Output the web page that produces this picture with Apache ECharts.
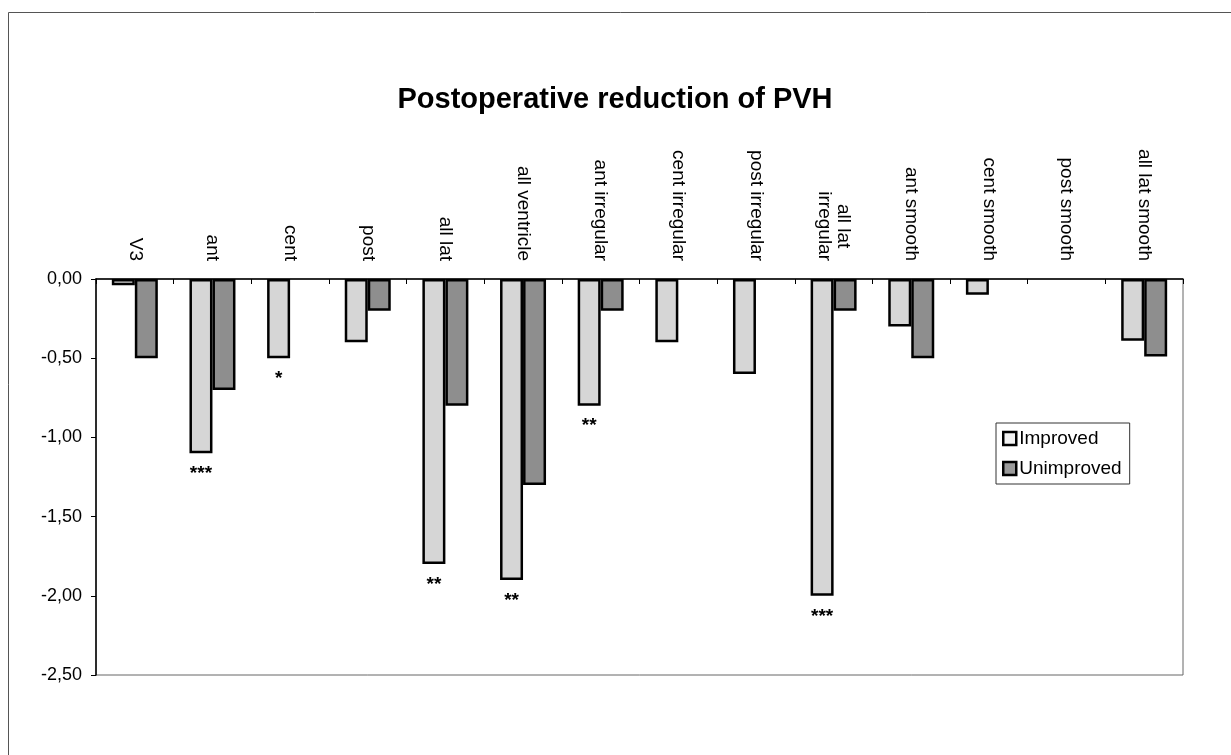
<!DOCTYPE html>
<html>
<head>
<meta charset="utf-8">
<script src="https://cdn.jsdelivr.net/npm/echarts@6/dist/echarts.min.js"></script>
<style>
html,body{margin:0;padding:0;background:#fff;}
#chart{width:1231px;height:755px;}
</style>
</head>
<body>
<div id="chart"></div>
<script>
const categories = ['V3','ant','cent','post','all lat','all ventricle','ant irregular','cent irregular','post irregular','all lat\nirregular','ant smooth','cent smooth','post smooth','all lat smooth'];
const improved   = [-0.04, -1.10, -0.50, -0.40, -1.80, -1.90, -0.80, -0.40, -0.60, -2.00, -0.30, -0.10, null, -0.39];
const unimproved = [-0.50, -0.70, null, -0.20, -0.80, -1.30, -0.20, null, null, -0.20, -0.50, null, null, -0.49];
const significance = ['', '***', '*', '', '**', '**', '**', '', '', '***', '', '', '', ''];
const yTicks = [-2.5, -2.0, -1.5, -1.0, -0.5, 0];

const FONT = '"Liberation Sans", Arial, sans-serif';
const chart = echarts.init(document.getElementById('chart'), null, {renderer: 'canvas'});

const improvedData = improved.map((v, i) => ({
  value: v,
  label: {
    show: !!significance[i],
    formatter: significance[i],
    position: 'bottom',
    distance: 11,
    fontSize: 19,
    fontWeight: 'bold',
    color: '#000',
    fontFamily: FONT
  }
}));

chart.setOption({
  animation: false,
  backgroundColor: '#fff',
  title: {
    text: 'Postoperative reduction of PVH',
    left: 610,
    top: 80,
    textAlign: 'center',
    textStyle: {fontFamily: FONT, fontSize: 29, fontWeight: 'bold', color: '#000'}
  },
  graphic: [{
    type: 'rect',
    shape: {x: 8.5, y: 12.5, width: 1240, height: 800},
    style: {fill: 'none', stroke: '#555', lineWidth: 1},
    silent: true, z: -1
  }],
  legend: {
    orient: 'vertical',
    left: 996, top: 423,
    width: 137, height: 63,
    padding: [6, 8, 6, 6],
    itemGap: 11,
    itemWidth: 13, itemHeight: 13,
    borderColor: '#333', borderWidth: 1,
    backgroundColor: '#fff',
    textStyle: {fontFamily: FONT, fontSize: 19, color: '#000', padding: [0, 0, 0, -2]},
    data: [
      {name: 'Improved', icon: 'rect', itemStyle: {color: '#f2f2f2', borderColor: '#000', borderWidth: 2.5}},
      {name: 'Unimproved', icon: 'rect', itemStyle: {color: '#9a9a9a', borderColor: '#000', borderWidth: 2.5}}
    ]
  },
  grid: {
    left: 96, right: 48, top: 279, bottom: 80,
    show: true, borderColor: '#666', borderWidth: 1, backgroundColor: 'transparent'
  },
  xAxis: {
    type: 'category',
    position: 'top',
    data: categories,
    axisLine: {onZero: false, lineStyle: {color: '#000', width: 1.5}},
    axisTick: {show: true, inside: true, length: 5, alignWithLabel: false, interval: 0, lineStyle: {color: '#000'}},
    axisLabel: {
      interval: 0, rotate: 90, margin: 18,
      fontFamily: FONT, fontSize: 19, color: '#000',
      formatter: v => v.split('\n').map(s => '{c|' + s + '}').join('\n'),
      rich: {c: {align: 'center', fontFamily: FONT, fontSize: 19, color: '#000'}}
    },
    splitLine: {show: false}
  },
  yAxis: {
    type: 'value',
    min: yTicks[0], max: yTicks[yTicks.length - 1], interval: 0.5,
    axisLine: {show: true, lineStyle: {color: '#000', width: 1.5}},
    axisTick: {show: true, length: 5, lineStyle: {color: '#000'}},
    axisLabel: {
      margin: 14, fontFamily: FONT, fontSize: 18, color: '#000',
      formatter: v => v.toFixed(2).replace('.', ',')
    },
    splitLine: {show: false}
  },
  series: [
    {
      name: 'Improved', type: 'bar', data: improvedData,
      barWidth: 23, barGap: '0%',
      itemStyle: {color: '#d6d6d6', borderColor: '#000', borderWidth: 2.5}
    },
    {
      name: 'Unimproved', type: 'bar', data: unimproved,
      barWidth: 23, barGap: '0%',
      itemStyle: {color: '#8e8e8e', borderColor: '#000', borderWidth: 2.5}
    }
  ]
});
</script>
</body>
</html>
